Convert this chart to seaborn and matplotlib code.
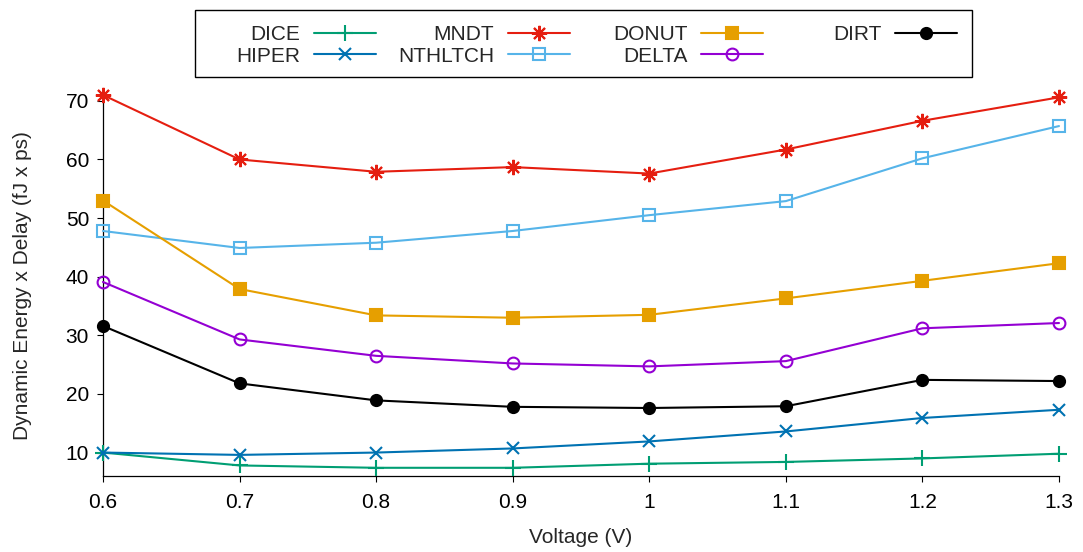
import matplotlib
matplotlib.use("Agg")
import matplotlib.pyplot as plt
from matplotlib.patches import Rectangle
import seaborn as sns
import pandas as pd

# Supply voltage sweep and tick labels
voltage = [0.6, 0.7, 0.8, 0.9, 1.0, 1.1, 1.2, 1.3]
voltage_labels = ["0.6", "0.7", "0.8", "0.9", "1", "1.1", "1.2", "1.3"]
y_ticks = [10, 20, 30, 40, 50, 60, 70]

# Energy-delay product per design (fJ x ps)
dice = [10.0, 7.8, 7.4, 7.4, 8.1, 8.4, 9.0, 9.8]
hiper = [10.0, 9.6, 10.0, 10.7, 11.9, 13.6, 15.9, 17.3]
mndt = [71.0, 60.0, 57.9, 58.7, 57.6, 61.7, 66.6, 70.6]
nthltch = [47.8, 44.9, 45.8, 47.8, 50.5, 52.9, 60.2, 65.7]
donut = [53.0, 37.9, 33.4, 33.0, 33.5, 36.3, 39.3, 42.3]
delta = [39.1, 29.3, 26.5, 25.2, 24.7, 25.6, 31.2, 32.1]
dirt = [31.6, 21.8, 18.9, 17.8, 17.6, 17.9, 22.4, 22.2]

names = ["DICE", "HIPER", "MNDT", "NTHLTCH", "DONUT", "DELTA", "DIRT"]
values = [dice, hiper, mndt, nthltch, donut, delta, dirt]

df = pd.DataFrame({n: v for n, v in zip(names, values)})
df["Voltage"] = voltage

sns.set_style("ticks")
plt.rcParams["font.family"] = ["Liberation Sans", "DejaVu Sans"]
FS = 15

styles = {
    "DICE":    dict(color="#009e73", marker="+", mfc="#009e73", ms=11),
    "HIPER":   dict(color="#0072b2", marker="x", mfc="#0072b2", ms=9),
    "MNDT":    dict(color="#e51e10", marker=(8, 2, 0), mfc="#e51e10", ms=11),
    "NTHLTCH": dict(color="#56b4e9", marker="s", mfc="none", ms=8),
    "DONUT":   dict(color="#e69f00", marker="s", mfc="#e69f00", ms=8),
    "DELTA":   dict(color="#9400d3", marker="o", mfc="none", ms=8.5),
    "DIRT":    dict(color="#000000", marker="o", mfc="#000000", ms=8),
}

fig = plt.figure(figsize=(10.83, 5.52), dpi=100)
ax = fig.add_axes([103 / 1083, 1 - 476 / 552, (1059 - 103) / 1083, (476 - 95) / 552])

for name in names:
    st = styles[name]
    sns.lineplot(data=df, x="Voltage", y=name, ax=ax, color=st["color"],
                 marker=st["marker"], markersize=st["ms"],
                 markerfacecolor=st["mfc"], markeredgecolor=st["color"],
                 mew=1.5, linewidth=1.5, label=name, legend=False,
                 clip_on=False, zorder=3)

ax.set_xlim(0.6, 1.3)
ax.set_ylim(6, 71)
ax.set_xticks(voltage)
ax.set_xticklabels(voltage_labels)
ax.set_yticks(y_ticks)
ax.tick_params(axis="both", labelsize=FS, direction="out", length=4, width=0.8,
               color="black", labelcolor="black")
ax.tick_params(axis="x", pad=8)
ax.tick_params(axis="y", pad=6)
for side in ["top", "right"]:
    ax.spines[side].set_visible(False)
for side in ["left", "bottom"]:
    ax.spines[side].set_color("black")
    ax.spines[side].set_linewidth(0.9)

ax.set_xlabel("Voltage (V)", fontsize=FS, labelpad=12)
ax.set_ylabel("Dynamic Energy x Delay (fJ x ps)", fontsize=FS, labelpad=24)

# Legend: four evenly spaced columns, labels to the left of their samples
handles, labels = ax.get_legend_handles_labels()
lookup = dict(zip(labels, handles))
columns = [["DICE", "HIPER"], ["MNDT", "NTHLTCH"], ["DONUT", "DELTA"], ["DIRT"]]
col_right = [376, 570, 763.5, 957.5]
for col, xr in zip(columns, col_right):
    leg = fig.legend([lookup[n] for n in col], col, loc="upper right",
                     bbox_to_anchor=(xr / 1083, 1 - 25 / 552),
                     frameon=False, markerfirst=False, fontsize=FS,
                     handlelength=3.0, handletextpad=0.65, borderpad=0,
                     borderaxespad=0, labelspacing=0.12)
fig.patches.append(Rectangle((195 / 1083, 1 - 77 / 552), (972 - 195) / 1083, 67 / 552,
                             transform=fig.transFigure, fill=False,
                             edgecolor="black", linewidth=1.0))

fig.savefig("out.png", dpi=100)
